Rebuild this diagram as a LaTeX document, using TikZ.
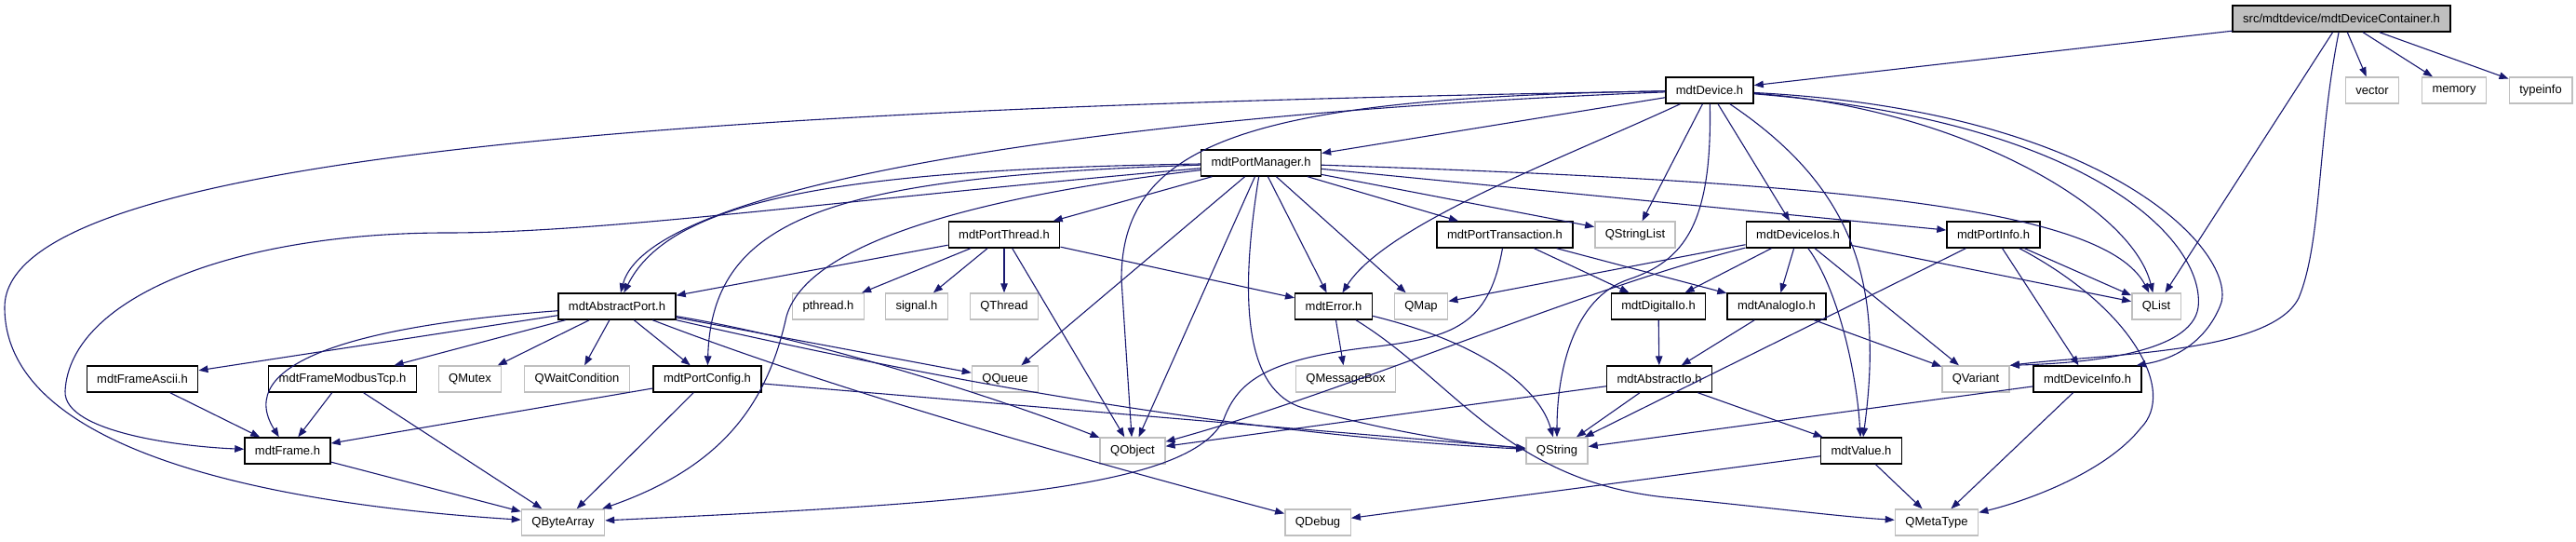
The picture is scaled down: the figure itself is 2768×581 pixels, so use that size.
\documentclass[tikz,border=0pt]{standalone}
\usepackage{fontspec}
\setmainfont{Liberation Sans}
\usetikzlibrary{arrows.meta}
\definecolor{edgeblue}{HTML}{191970}
\definecolor{sysgray}{HTML}{BFBFBF}

\begin{document}
\begin{tikzpicture}[x=1pt,y=-1pt,
    inc/.style={draw=black,line width=1.4pt,fill=white,minimum height=28pt,inner xsep=11pt,inner ysep=0pt,font=\fontsize{13}{15}\selectfont},
    sys/.style={inc,draw=sysgray},
    topfile/.style={inc,fill=sysgray},
    dep/.style={draw=edgeblue,line width=1.1pt,-{Triangle[length=10pt,width=7.5pt]}}]
    \useasboundingbox (0,0) rectangle (2768,581);

    \node[topfile] (root) at (2516,20) {src/mdtdevice/mdtDeviceContainer.h};
    \node[inc] (dev) at (1837,97) {mdtDevice.h};
    \node[sys] (vector) at (2549,97) {vector};
    \node[sys] (memory) at (2637,97) {memory};
    \node[sys] (typeinfo) at (2730,97) {typeinfo};
    \node[inc] (pmgr) at (1355,175) {mdtPortManager.h};
    \node[inc] (pthr) at (1079,252) {mdtPortThread.h};
    \node[inc] (ptrans) at (1617,252) {mdtPortTransaction.h};
    \node[sys] (qstrlist) at (1757,252) {QStringList};
    \node[inc] (dios) at (1932,252) {mdtDeviceIos.h};
    \node[inc] (pinfo) at (2142,252) {mdtPortInfo.h};
    \node[inc] (aport) at (663,329) {mdtAbstractPort.h};
    \node[sys] (pthread) at (890,329) {pthread.h};
    \node[sys] (signal) at (985,329) {signal.h};
    \node[sys] (qthread) at (1079,329) {QThread};
    \node[inc] (err) at (1433,329) {mdtError.h};
    \node[sys] (qmap) at (1527,329) {QMap};
    \node[inc] (dio) at (1782,329) {mdtDigitalIo.h};
    \node[inc] (aio) at (1909,329) {mdtAnalogIo.h};
    \node[sys] (qlist) at (2317,329) {QList};
    \node[inc] (fascii) at (153,407) {mdtFrameAscii.h};
    \node[inc] (fmodbus) at (368,407) {mdtFrameModbusTcp.h};
    \node[sys] (qmutex) at (505,407) {QMutex};
    \node[sys] (qwait) at (620,407) {QWaitCondition};
    \node[inc] (pcfg) at (760,407) {mdtPortConfig.h};
    \node[sys] (qqueue) at (1080,407) {QQueue};
    \node[sys] (qmsgbox) at (1446,407) {QMessageBox};
    \node[inc] (absio) at (1783,407) {mdtAbstractIo.h};
    \node[sys] (qvariant) at (2123,407) {QVariant};
    \node[inc] (dinfo) at (2243,407) {mdtDeviceInfo.h};
    \node[inc] (frame) at (309,484) {mdtFrame.h};
    \node[sys] (qobject) at (1217,484) {QObject};
    \node[sys] (qstring) at (1673,484) {QString};
    \node[inc] (val) at (2000,484) {mdtValue.h};
    \node[sys] (qbytearray) at (605,561) {QByteArray};
    \node[sys] (qdebug) at (1416,561) {QDebug};
    \node[sys] (qmetatype) at (2081,561) {QMetaType};

    \draw[dep] (root) -- (dev);
    \draw[dep] (root) -- (vector);
    \draw[dep] (root) -- (memory);
    \draw[dep] (root) -- (typeinfo);
    \draw[dep] (root) -- (qlist);
    \draw[dep] (root) .. controls (2490,150) and (2495,260) .. (2470,320) .. controls (2440,380) and (2260,380) .. (qvariant.north east);

    \draw[dep] (dev) -- (pmgr);
    \draw[dep] (dev) .. controls (800,115) and (5,160) .. (5,330) .. controls (5,500) and (350,545) .. (qbytearray);
    \draw[dep] (dev) .. controls (1250,120) and (700,190) .. (aport);
    \draw[dep] (dev) .. controls (1350,105) and (1205,150) .. (1205,300) -- (qobject);
    \draw[dep] (dev) .. controls (1680,170) and (1490,240) .. (err);
    \draw[dep] (dev) .. controls (1840,240) and (1810,280) .. (1750,300) .. controls (1690,320) and (1673,400) .. (qstring);
    \draw[dep] (dev) -- (qstrlist);
    \draw[dep] (dev) -- (dios);
    \draw[dep] (dev) .. controls (1990,200) and (2025,300) .. (val);
    \draw[dep] (dev) .. controls (2100,115) and (2290,220) .. (qlist);
    \draw[dep] (dev) .. controls (2280,120) and (2410,280) .. (2385,330) .. controls (2370,365) and (2340,385) .. ([xshift=-6pt]dinfo.north east);
    \draw[dep] (dev) .. controls (2250,130) and (2370,260) .. (2362,330) .. controls (2355,380) and (2240,390) .. (qvariant.north east);

    \draw[dep] (pmgr) -- (pthr);
    \draw[dep] (pmgr) -- (ptrans);
    \draw[dep] (pmgr) -- (qstrlist);
    \draw[dep] (pmgr) -- (pinfo);
    \draw[dep] (pmgr) .. controls (1950,195) and (2260,220) .. (qlist);
    \draw[dep] (pmgr) .. controls (900,182) and (720,215) .. (aport);
    \draw[dep] (pmgr) .. controls (900,190) and (765,230) .. (pcfg);
    \draw[dep] (pmgr) .. controls (900,215) and (650,250) .. (480,250) .. controls (250,250) and (75,320) .. (70,420) .. controls (68,465) and (200,480) .. (frame);
    \draw[dep] (pmgr) .. controls (1100,205) and (870,250) .. (845,340) .. controls (825,430) and (780,500) .. (qbytearray);
    \draw[dep] (pmgr) -- (qqueue);
    \draw[dep] (pmgr) -- (qobject);
    \draw[dep] (pmgr) .. controls (1330,330) and (1340,420) .. (1400,438) .. controls (1480,460) and (1560,475) .. (qstring);
    \draw[dep] (pmgr) -- (err);
    \draw[dep] (pmgr) -- (qmap);

    \draw[dep] (pthr) -- (aport);
    \draw[dep] (pthr) -- (pthread);
    \draw[dep] (pthr) -- (signal);
    \draw[dep] (pthr) -- (qthread);
    \draw[dep] (pthr) -- (qobject);
    \draw[dep] (pthr) -- (err);

    \draw[dep] (ptrans) .. controls (1600,350) and (1560,362) .. (1480,372) .. controls (1360,385) and (1330,410) .. (1315,450) .. controls (1280,525) and (1050,540) .. (qbytearray);
    \draw[dep] (ptrans) -- (dio);
    \draw[dep] (ptrans) -- (aio);

    \draw[dep] (dios) -- (qmap);
    \draw[dep] (dios) .. controls (1700,310) and (1450,420) .. (qobject);
    \draw[dep] (dios) -- (dio);
    \draw[dep] (dios) -- (aio);
    \draw[dep] (dios) .. controls (1975,310) and (1995,400) .. (val);
    \draw[dep] (dios) -- (qvariant);
    \draw[dep] (dios) -- (qlist);

    \draw[dep] (pinfo) -- (qstring);
    \draw[dep] (pinfo) -- (dinfo);
    \draw[dep] (pinfo) -- (qlist);
    \draw[dep] (pinfo) .. controls (2290,330) and (2340,420) .. (2300,460) .. controls (2260,510) and (2170,540) .. (qmetatype);

    \draw[dep] (aport) -- (fascii);
    \draw[dep] (aport) .. controls (380,350) and (250,390) .. (frame);
    \draw[dep] (aport) -- (fmodbus);
    \draw[dep] (aport) -- (qmutex);
    \draw[dep] (aport) -- (qwait);
    \draw[dep] (aport) -- (pcfg);
    \draw[dep] (aport) -- (qqueue);
    \draw[dep] (aport) .. controls (880,365) and (1080,430) .. (qobject);
    \draw[dep] (aport) .. controls (950,395) and (1300,465) .. (qstring);
    \draw[dep] (aport) .. controls (900,420) and (1150,490) .. (qdebug);

    \draw[dep] (pcfg) -- (frame);
    \draw[dep] (pcfg) -- (qbytearray);
    \draw[dep] (pcfg) -- (qstring);
    \draw[dep] (fascii) -- (frame);
    \draw[dep] (fmodbus) -- (frame);
    \draw[dep] (fmodbus) -- (qbytearray);
    \draw[dep] (frame) -- (qbytearray);

    \draw[dep] (err) -- (qmsgbox);
    \draw[dep] (err) .. controls (1600,370) and (1655,420) .. (qstring);
    \draw[dep] (err) .. controls (1565,410) and (1620,520) .. (1800,535) .. controls (1900,545) and (1980,555) .. (qmetatype);

    \draw[dep] (dio) -- (absio);
    \draw[dep] (aio) -- (absio);
    \draw[dep] (aio) -- (qvariant);
    \draw[dep] (absio) -- (qobject);
    \draw[dep] (absio) -- (qstring);
    \draw[dep] (absio) -- (val);
    \draw[dep] (dinfo) -- (qstring);
    \draw[dep] (dinfo) -- (qmetatype);
    \draw[dep] (val) -- (qdebug);
    \draw[dep] (val) -- (qmetatype);
\end{tikzpicture}
\end{document}
